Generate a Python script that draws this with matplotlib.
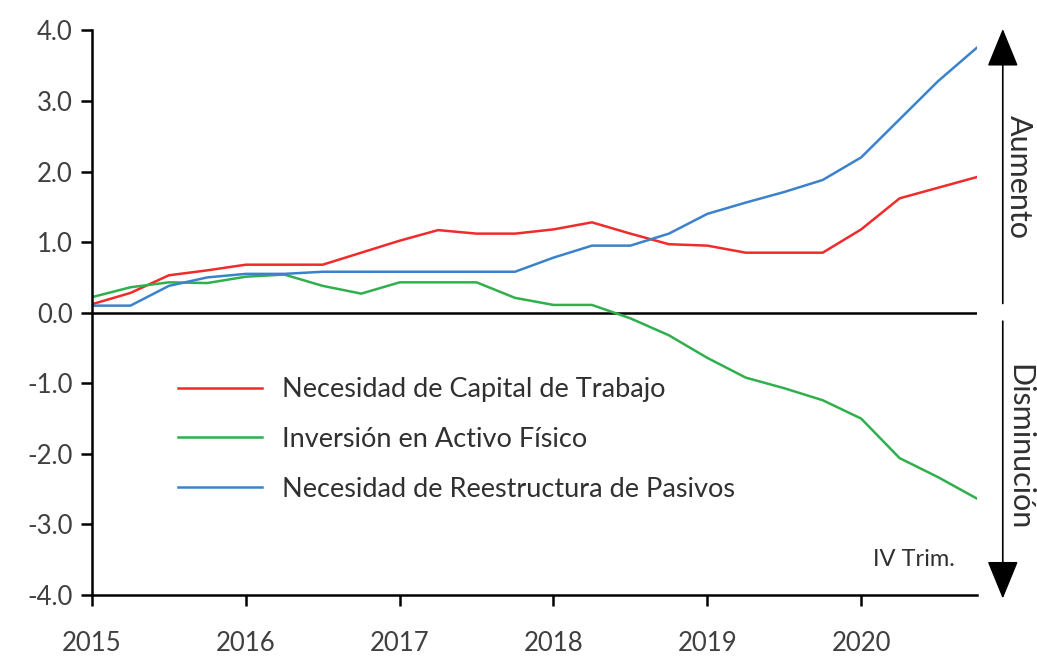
import numpy as np
import matplotlib
matplotlib.use("Agg")
import matplotlib.pyplot as plt

plt.rcParams['font.family'] = ['Lato', 'DejaVu Sans']

# trimestres 2015 I - 2020 IV
quarters = np.arange(2015, 2021, 0.25)

capital_trabajo = [0.12, 0.28, 0.53, 0.60, 0.68, 0.68, 0.68, 0.85, 1.02, 1.17, 1.12, 1.12,
                   1.18, 1.28, 1.12, 0.97, 0.95, 0.85, 0.85, 0.85, 1.18, 1.62, 1.77, 1.92]
activo_fisico = [0.22, 0.36, 0.43, 0.42, 0.51, 0.54, 0.38, 0.27, 0.43, 0.43, 0.43, 0.21,
                 0.11, 0.11, -0.08, -0.32, -0.64, -0.92, -1.07, -1.24, -1.50, -2.06, -2.33, -2.63]
reestructura = [0.10, 0.10, 0.38, 0.50, 0.55, 0.55, 0.58, 0.58, 0.58, 0.58, 0.58, 0.58,
                0.78, 0.95, 0.95, 1.12, 1.40, 1.56, 1.71, 1.88, 2.20, 2.74, 3.28, 3.75]

labels = ["Necesidad de Capital de Trabajo",
          "Inversión en Activo Físico",
          "Necesidad de Reestructura de Pasivos"]
colors = ["#f02b2b", "#2fb04c", "#3b82cc"]
series = [capital_trabajo, activo_fisico, reestructura]

yticks = np.arange(-4, 4.1, 1)
years = [2015, 2016, 2017, 2018, 2019, 2020]

fig = plt.figure(figsize=(10.37, 6.59), dpi=100)
ax = fig.add_axes([0.0887, 0.097, 0.853, 0.857])

for vals, lab, col in zip(series, labels, colors):
    ax.plot(quarters, vals, color=col, lw=1.8, label=lab)

ax.axhline(0, color="black", lw=1.8, zorder=1)

ax.set_xlim(2015, 2020.75)
ax.set_ylim(-4, 4)
ax.set_yticks(yticks)
ax.set_yticklabels([f"{v:.1f}" for v in yticks])
ax.set_xticks(years)
ax.set_xticklabels([str(y) for y in years])

for s in ["top", "right"]:
    ax.spines[s].set_visible(False)
for s in ["left", "bottom"]:
    ax.spines[s].set_linewidth(1.8)
ax.tick_params(axis="both", direction="out", length=8, width=1.8,
               labelsize=18.5, labelcolor="#404040")
ax.tick_params(axis="x", pad=18)
ax.tick_params(axis="y", pad=6)

leg = ax.legend(loc="upper left", bbox_to_anchor=(178 / 1037, 1 - 377 / 659),
                bbox_transform=fig.transFigure, frameon=False, fontsize=19.5,
                handlelength=3.1, handletextpad=0.75, labelspacing=0.92,
                borderpad=0, borderaxespad=0)
for t in leg.get_texts():
    t.set_color("#303030")

fig.text(955 / 1037, 1 - 560 / 659, "IV Trim.", ha="right", va="center",
         fontsize=17, color="#303030")

# flechas de aumento / disminución
arr = dict(arrowstyle="-|>,head_width=0.45,head_length=1.1", color="black",
           lw=1.2, mutation_scale=22, shrinkA=0, shrinkB=0)
ax.annotate("", xy=(0.967, 4.02), xytext=(0.967, 0.13),
            xycoords=("figure fraction", "data"), arrowprops=arr, annotation_clip=False)
ax.annotate("", xy=(0.967, -4.05), xytext=(0.967, -0.12),
            xycoords=("figure fraction", "data"), arrowprops=arr, annotation_clip=False)

fig.text(1019 / 1037, 1 - 177 / 659, "Aumento", rotation=270, ha="center", va="center",
         fontsize=22, color="#303030")
fig.text(1019 / 1037, 1 - 447 / 659, "Disminución", rotation=270, ha="center", va="center",
         fontsize=22, color="#303030")

fig.savefig("out.png", dpi=100)
